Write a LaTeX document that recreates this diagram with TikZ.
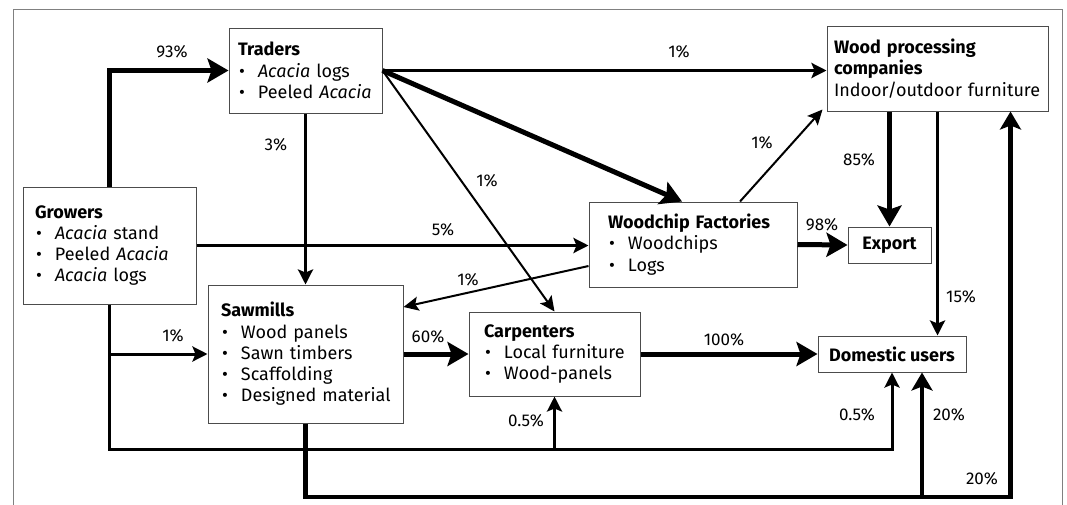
\documentclass[tikz,border=0pt]{standalone}
\usepackage{fontspec}
\setmainfont{Fira Sans}
\usetikzlibrary{arrows.meta}
\newcommand{\bul}[1]{\mbox{\makebox[20pt][l]{\hspace{1pt}\textbullet}#1}}

\begin{document}
\begin{tikzpicture}[x=1pt,y=-1pt,line join=miter,draw=black]
	\tikzstyle{every node}=[inner sep=0pt,text=black,font=\fontsize{17}{20}\selectfont]
	\tikzstyle{BX} =[rectangle,draw=black!70,line width=1pt,fill=white,align=left,inner ysep=0pt,font=\fontsize{18}{21.3}\selectfont] % BX = actor box
	\tikzstyle{SX} =[BX,align=center] % SX = small end box
	\useasboundingbox(0,0)rectangle(1067,504);
	\draw[black!50,line width=1pt](13,515)|-(1062,9)--(1062,515);
	% actors
	\node(tra)[BX,minimum width=153pt,minimum height=85pt,text width=135pt,inner xsep=9pt] at (305.5,70.5) {\textbf{Traders}\\\bul{\textit{Acacia} logs}\\\bul{Peeled \textit{Acacia}}};
	\node(gro)[BX,minimum width=173pt,minimum height=117pt,text width=149pt,inner xsep=12pt] at (109.5,245.5) {\textbf{Growers}\\\bul{\textit{Acacia} stand}\\\bul{Peeled \textit{Acacia}}\\\bul{\textit{Acacia} logs}};
	\node(saw)[BX,minimum width=195pt,minimum height=138pt,text width=169pt,inner xsep=13pt] at (305.5,354) {\textbf{Sawmills}\\\bul{Wood panels}\\\bul{Sawn timbers}\\\bul{Scaffolding}\\\bul{Designed material}};
	\node(car)[BX,minimum width=171pt,minimum height=84pt,text width=141pt,inner xsep=15pt] at (554.5,354) {\textbf{Carpenters}\\\bul{Local furniture}\\\bul{Wood-panels}};
	\node(wcf)[BX,minimum width=208pt,minimum height=85pt,text width=170pt,inner xsep=19pt] at (693,244.5) {\textbf{Woodchip Factories}\\\bul{Woodchips}\\\bul{Logs}};
	\node(wpc)[BX,minimum width=221pt,minimum height=85pt,text width=207pt,inner xsep=7pt] at (937.5,68.5) {\textbf{Wood processing}\\\textbf{companies}\\\mbox{Indoor/outdoor furniture}};
	\node(exp)[SX,minimum width=83pt,minimum height=36pt] at (889.5,245) {\textbf{Export}};
	\node(dom)[SX,minimum width=148pt,minimum height=36pt] at (892,354) {\textbf{Domestic users}};
	% helper points of the two loops
	\coordinate(gb) at (110,449);
	\coordinate(sb) at (305,497);
	\coordinate(wi) at ([xshift=-38pt]wpc.south east);
	\coordinate(di) at ([xshift=30pt]dom.south);
	% edge group thick
	\tikzstyle{col}=[line width=5pt,-{Stealth[length=21pt,width=24pt,inset=4pt]}]
	\draw[col](gro.north)|-(tra.west);
	\draw[col](tra.east)to[]([xshift=-11pt]wcf.north);
	\draw[col](wcf.east)to[](exp.west);
	\draw[col](exp.north|-wpc.south)to[](exp.north);
	\draw[col](saw.east)to[](car.west);
	\draw[col](car.east)to[](dom.west);
	\tikzstyle{col}=[line width=4.5pt,-{Stealth[length=18pt,width=21pt,inset=4pt]}]
	\draw[col](saw.south)|-(sb-|wi)to[](wi);
	\draw[col](sb-|di)to[](di);
	% edge group medium
	\tikzstyle{col}=[line width=3pt,-{Stealth[length=15pt,width=15pt,inset=3pt]}]
	\draw[col](tra.south)to[](saw.north);
	\draw[col](tra.east)to[](tra.east-|wpc.west);
	\draw[col](gro.east)to[](gro.east-|wcf.west);
	\draw[col](wpc.south)to[](wpc.south|-dom.north);
	\draw[col](gro.south)|-(gb-|dom.south)to[](dom.south);
	\draw[col](gb-|car.south)to[](car.south);
	\draw[col](gro.south|-saw.west)to[](saw.west);
	% edge group thin
	\tikzstyle{col}=[line width=2pt,-{Stealth[length=15pt,width=14pt,inset=3pt]}]
	\draw[col](tra.east)to[](car.north);
	\draw[col]([yshift=-21.5pt]wcf.west)to[]([yshift=47pt]saw.east);
	\draw[col]([xshift=47pt]wcf.north)to[]([xshift=-4pt,yshift=2pt]wpc.south west);
	% shares
	\node(l93) at (172,52) {93\%};
	\node(l3) at (276,145) {3\%};
	\node(l1a) at (679,52) {1\%};
	\node(l1b) at (487,181) {1\%};
	\node(l5) at (443,230) {5\%};
	\node(l1c) at (468,280) {1\%};
	\node(l1d) at (762,143) {1\%};
	\node(l98) at (822,225) {98\%};
	\node(l85) at (859,160) {85\%};
	\node(l15) at (961,297) {15\%};
	\node(l1e) at (173,336) {1\%};
	\node(l60) at (428,337) {60\%};
	\node(l100) at (724,340) {100\%};
	\node(l05a) at (526,421) {0.5\%};
	\node(l05b) at (857,415) {0.5\%};
	\node(l20a) at (949,415) {20\%};
	\node(l20b) at (982,479) {20\%};
\end{tikzpicture}
\end{document}
